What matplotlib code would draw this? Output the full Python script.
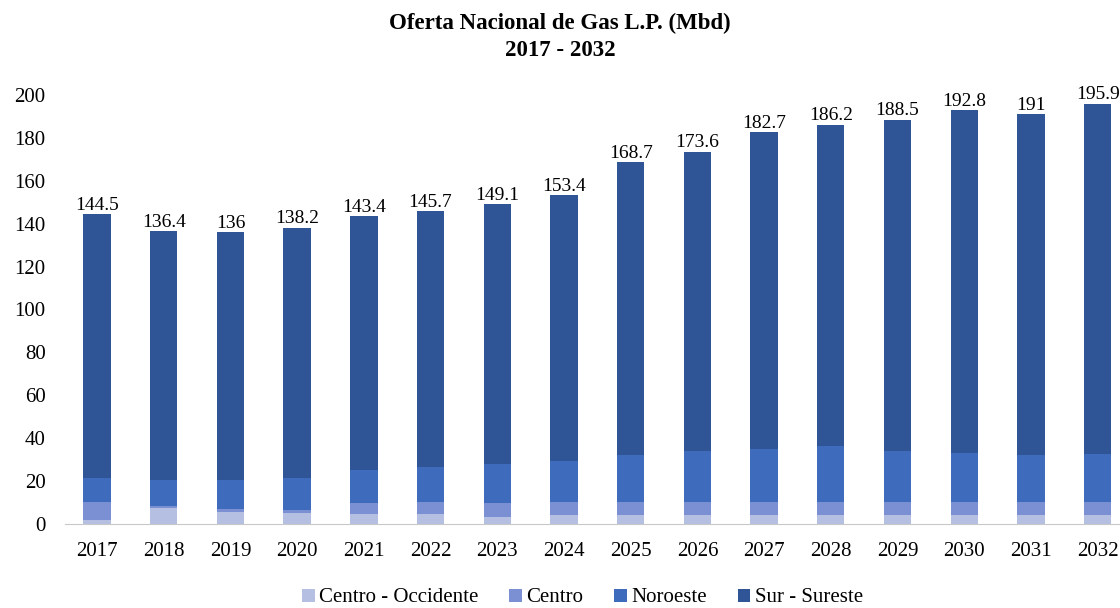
import matplotlib
matplotlib.use("Agg")
import matplotlib.pyplot as plt
from matplotlib.patches import Patch
import numpy as np

years = ["2017", "2018", "2019", "2020", "2021", "2022", "2023", "2024",
         "2025", "2026", "2027", "2028", "2029", "2030", "2031", "2032"]
totals = [144.5, 136.4, 136, 138.2, 143.4, 145.7, 149.1, 153.4,
          168.7, 173.6, 182.7, 186.2, 188.5, 192.8, 191, 195.9]
centro_occidente = [1.9, 7.3, 5.8, 5.3, 4.7, 4.7, 3.4, 4.0,
                    4.0, 4.0, 4.0, 4.0, 4.0, 4.0, 4.0, 4.0]
centro = [8.5, 1.0, 1.0, 1.1, 5.1, 5.6, 6.4, 6.3,
          6.3, 6.3, 6.3, 6.3, 6.3, 6.3, 6.3, 6.3]
noroeste = [11.2, 12.1, 13.6, 15.2, 15.5, 16.3, 18.3, 19.1,
            21.9, 23.9, 24.7, 26.2, 23.9, 23.0, 21.9, 22.5]
sur_sureste = [round(t - a - b - c, 1) for t, a, b, c in
               zip(totals, centro_occidente, centro, noroeste)]

series_names = ["Centro - Occidente", "Centro", "Noroeste", "Sur - Sureste"]
colors = ["#b4bfe2", "#7a90d2", "#3f6bbd", "#2f5597"]

plt.rcParams['font.family'] = ['Liberation Serif', 'DejaVu Serif']

fig = plt.figure(figsize=(11.2, 6.08), dpi=100)
ax = fig.add_axes([65/1120, 84/608, 1066/1120, (524-95)/608])

x = np.arange(len(years))
bottom = np.zeros(len(years))
for vals, col in zip([centro_occidente, centro, noroeste, sur_sureste], colors):
    ax.bar(x, vals, width=0.41, bottom=bottom, color=col, edgecolor='none')
    bottom += np.array(vals)

for xi, t in zip(x, totals):
    ax.text(xi, t + 0.2, f"{t:g}", ha='center', va='bottom', fontsize=14)

ax.set_xlim(-0.48, 15.5)
ax.set_ylim(0, 200)
ax.set_yticks(np.arange(0, 201, 20))
ax.set_xticks(x)
ax.set_xticklabels(years)
ax.tick_params(axis='both', length=0, labelsize=15)
ax.tick_params(axis='x', pad=13)
ax.tick_params(axis='y', pad=14)
for s in ['top', 'right', 'left']:
    ax.spines[s].set_visible(False)
ax.spines['bottom'].set_color('#c8c8c8')

fig.text(0.5, 1 - 23/608, "Oferta Nacional de Gas L.P. (Mbd)", ha='center', va='center',
         fontsize=16.5, fontweight='bold')
fig.text(0.5, 1 - 50/608, "2017 - 2032", ha='center', va='center',
         fontsize=16.5, fontweight='bold')

handles = [Patch(facecolor=c, edgecolor='none') for c in colors]
fig.legend(handles, series_names, loc='center', bbox_to_anchor=(0.52, 1 - 598/608),
           ncol=4, frameon=False, fontsize=15, handlelength=0.6, handleheight=0.6,
           handletextpad=0.2, columnspacing=1.5)

fig.savefig("out.png", dpi=100)
